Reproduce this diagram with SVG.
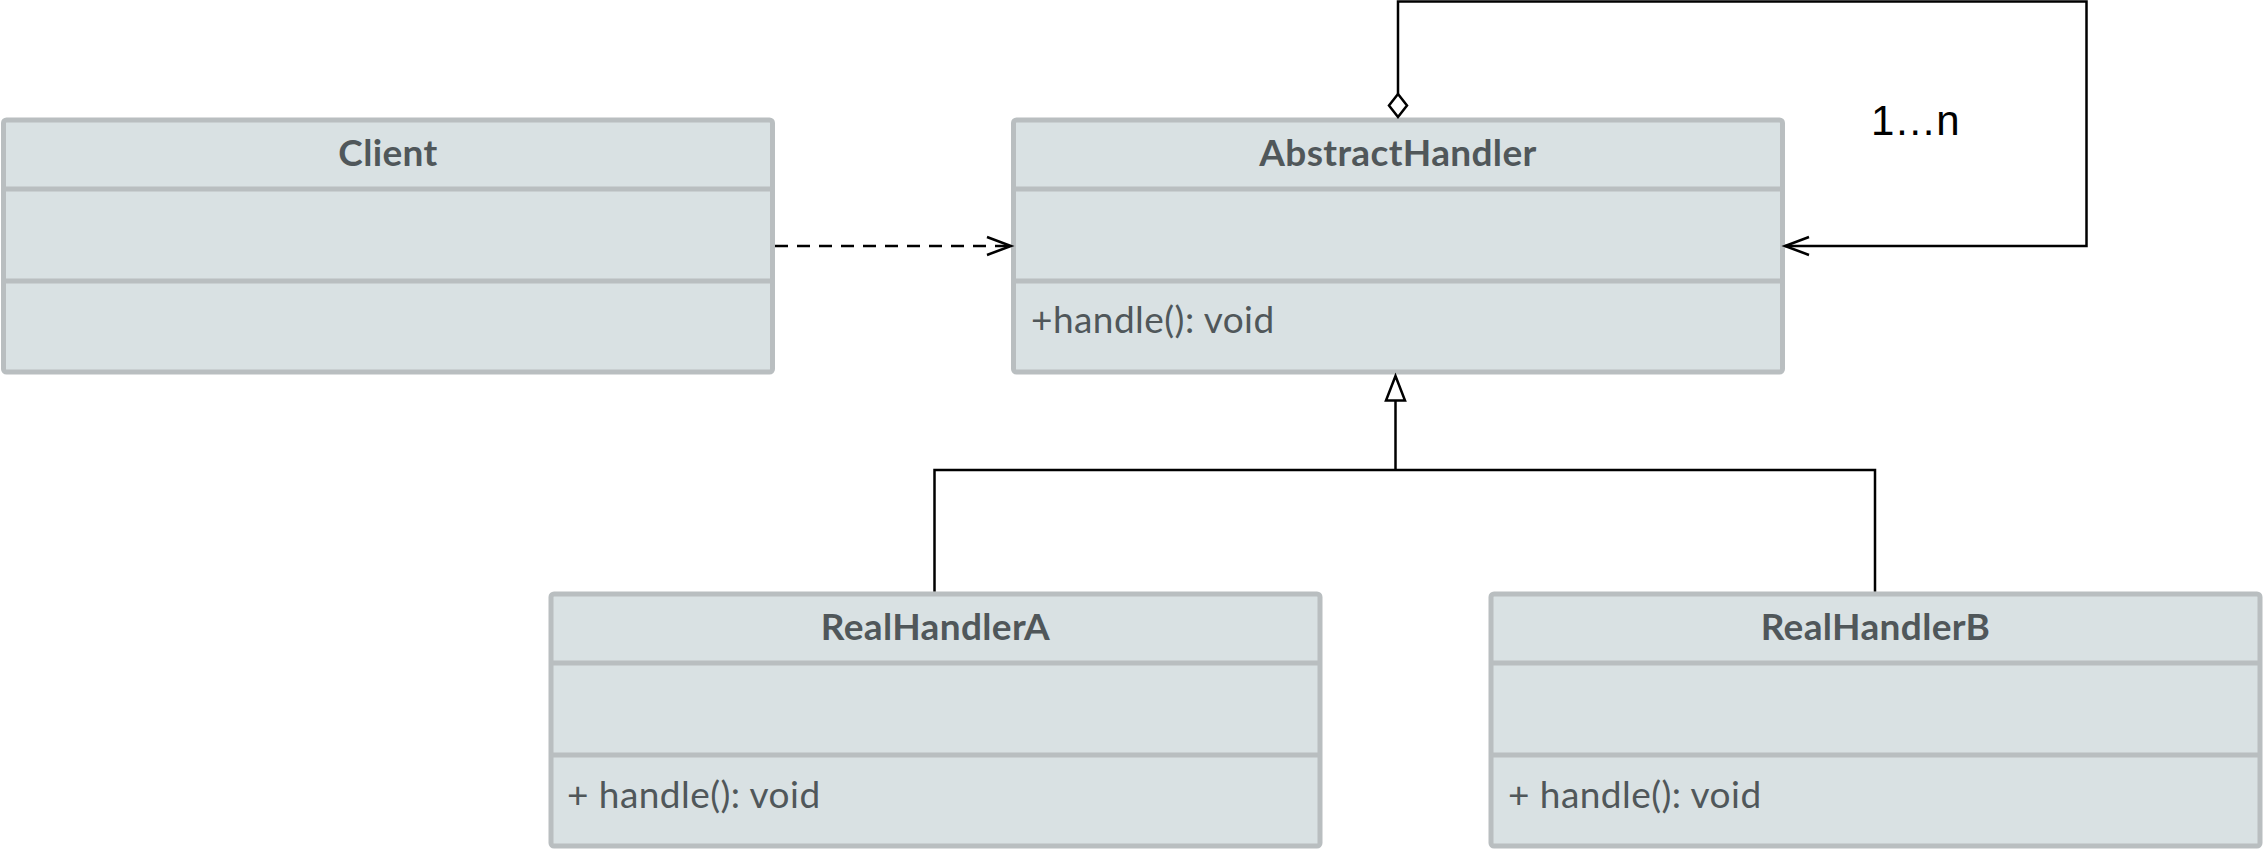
<svg xmlns="http://www.w3.org/2000/svg" width="2263" height="849" viewBox="0 0 2263 849">
<style>
.box{fill:#d9e1e3;stroke:#b9bec0;stroke-width:5}
.div{stroke:#b9bec0;stroke-width:5}
.name{font-family:Lato,"Noto Sans",sans-serif;font-weight:700;font-size:37px;letter-spacing:0.35px;fill:#50575a;text-anchor:middle}
.op{font-family:Lato,"Noto Sans",sans-serif;font-size:37px;letter-spacing:0.45px;fill:#50575a}
.mult{font-family:"Liberation Sans",Arial,sans-serif;font-size:42px;fill:#000}
.conn{fill:none;stroke:#000;stroke-width:2.5}
</style>
<defs>
<marker id="openArrow" markerUnits="userSpaceOnUse" orient="auto" refX="0" refY="0" markerWidth="30" markerHeight="24" overflow="visible">
<path d="M-24,-9 L0,0 L-24,9" fill="none" stroke="#000" stroke-width="2.5"/>
</marker>
<marker id="diamond" markerUnits="userSpaceOnUse" orient="auto" refX="0" refY="0" markerWidth="30" markerHeight="24" overflow="visible">
<path d="M0,0 L-11.5,-9 L-23,0 L-11.5,9 Z" fill="#fff" stroke="#000" stroke-width="2.5"/>
</marker>
<marker id="triangle" markerUnits="userSpaceOnUse" orient="auto" refX="0" refY="0" markerWidth="30" markerHeight="24" overflow="visible">
<path d="M0,0 L-24.5,-9.5 L-24.5,9.5 Z" fill="#fff" stroke="#000" stroke-width="2.5"/>
</marker>
</defs>
<g id="Client">
<rect class="box" x="3.5" y="120" width="769" height="252" rx="3"/>
<line class="div" x1="3.5" y1="189" x2="772.5" y2="189"/>
<line class="div" x1="3.5" y1="281" x2="772.5" y2="281"/>
<text class="name" x="388" y="166">Client</text>
</g>
<g id="AbstractHandler">
<rect class="box" x="1013.5" y="120" width="769" height="252" rx="3"/>
<line class="div" x1="1013.5" y1="189" x2="1782.5" y2="189"/>
<line class="div" x1="1013.5" y1="281" x2="1782.5" y2="281"/>
<text class="name" x="1398" y="166">AbstractHandler</text>
<text class="op" x="1031" y="333">+handle(): void</text>
</g>
<g id="RealHandlerA">
<rect class="box" x="551" y="594" width="769" height="252" rx="3"/>
<line class="div" x1="551" y1="663" x2="1320" y2="663"/>
<line class="div" x1="551" y1="755" x2="1320" y2="755"/>
<text class="name" x="935.5" y="639.5">RealHandlerA</text>
<text class="op" x="567" y="808">+ handle(): void</text>
</g>
<g id="RealHandlerB">
<rect class="box" x="1491" y="594" width="769" height="252" rx="3"/>
<line class="div" x1="1491" y1="663" x2="2260" y2="663"/>
<line class="div" x1="1491" y1="755" x2="2260" y2="755"/>
<text class="name" x="1875.5" y="639.5">RealHandlerB</text>
<text class="op" x="1508" y="808">+ handle(): void</text>
</g>
<g id="connectors">
<path class="conn" d="M775,246 H1011" stroke-dasharray="13 9" marker-end="url(#openArrow)"/>
<path class="conn" d="M1398,94 V1.5 H2086.5 V246 H1785" marker-start="url(#diamond)" marker-end="url(#openArrow)"/>
<path class="conn" d="M1395.5,470 V376" marker-end="url(#triangle)"/>
<path class="conn" d="M934.5,591.5 V470 H1875 V591.5"/>
<text class="mult" x="1871" y="135">1…n</text>
</g>
</svg>
